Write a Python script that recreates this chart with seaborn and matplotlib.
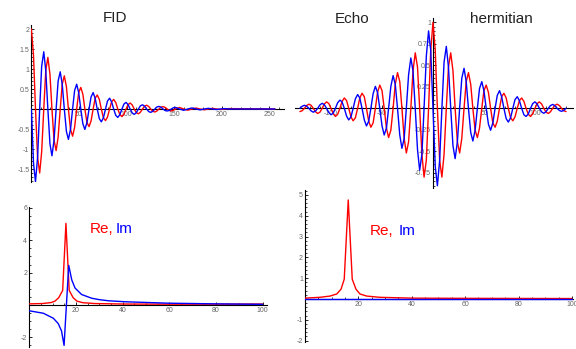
import matplotlib
matplotlib.use("Agg")
import matplotlib.pyplot as plt
import pandas as pd
import seaborn as sns

# ---------------- data ----------------
# FID: real (red) and imaginary (blue) parts, read every 1/8 period
fid_t = [0, 2.2, 4.3, 6.5, 8.7, 10.8, 13.0, 15.1, 17.3, 19.5, 21.6, 23.8, 26.0, 28.1,
         30.3, 32.4, 34.6, 36.8, 38.9, 41.1, 43.3, 45.4, 47.6, 49.7, 51.9, 54.1, 56.2,
         58.4, 60.6, 62.7, 64.9, 67.0, 69.2, 71.4, 73.5, 75.7, 77.9, 80.0, 82.2, 84.3,
         86.5, 88.7, 90.8, 93.0, 95.2, 97.3, 99.5, 101.6, 103.8, 106.0, 108.1, 110.3,
         112.5, 114.6, 116.8, 118.9, 121.1, 123.3, 125.4, 127.6, 129.8, 131.9, 134.1,
         136.2, 138.4, 140.6, 142.7, 144.9, 147.1, 149.2, 151.4,
         155.7, 160.0, 164.4, 168.7, 173.0, 177.3, 181.7, 186.0, 190.3, 194.6, 199.0,
         203.3, 207.6, 256]
fid_re = [2.0, 1.35, 0, -1.21, -1.6, -1.07, 0, 0.96, 1.29, 0.87, 0, -0.78, -1.04, -0.70,
          0, 0.62, 0.83, 0.56, 0, -0.51, -0.68, -0.46, 0, 0.41, 0.54, 0.37, 0, -0.34,
          -0.44, -0.30, 0, 0.27, 0.35, 0.24, 0, -0.22, -0.29, -0.20, 0, 0.18, 0.24, 0.16,
          0, -0.14, -0.19, -0.125, 0, 0.11, 0.15, 0.10, 0, -0.09, -0.12, -0.08, 0, 0.07,
          0.095, 0.064, 0, -0.057, -0.075, -0.05, 0, 0.044, 0.06, 0.039, 0, -0.035,
          -0.048, -0.033, 0,
          0.038, 0, -0.03, 0, 0.024, 0, -0.02, 0, 0.016, 0, -0.012, 0, 0.01, 0]
fid_im = [0, -1.35, -1.82, -1.21, 0, 1.07, 1.43, 0.96, 0, -0.87, -1.17, -0.78, 0, 0.70,
          0.93, 0.62, 0, -0.56, -0.76, -0.51, 0, 0.46, 0.62, 0.41, 0, -0.37, -0.51, -0.34,
          0, 0.30, 0.41, 0.27, 0, -0.24, -0.32, -0.22, 0, 0.20, 0.27, 0.18, 0, -0.16,
          -0.21, -0.14, 0, 0.125, 0.165, 0.11, 0, -0.10, -0.135, -0.09, 0, 0.08, 0.105,
          0.07, 0, -0.064, -0.085, -0.057, 0, 0.05, 0.065, 0.044, 0, -0.039, -0.05,
          -0.035, 0, 0.031, 0.04,
          0, -0.032, 0, 0.026, 0, -0.021, 0, 0.017, 0, -0.013, 0, 0.01, 0, 0]

# Echo (hermitian): real part even, imaginary part odd
echo_t_left = [-129.8, -127.6, -125.4, -123.3, -121.1, -118.9, -116.8, -114.6, -112.5,
               -110.3, -108.1, -106.0, -103.8, -101.6, -99.5, -97.3, -95.2, -93.0, -90.8,
               -88.7, -86.5, -84.3, -82.2, -80.0, -77.9, -75.7, -73.5, -71.4, -69.2, -67.0,
               -64.9, -62.7, -60.6, -58.4, -56.2, -54.1, -51.9, -49.7, -47.6, -45.4, -43.3,
               -41.1, -38.9, -36.8, -34.6, -32.4, -30.3, -28.1, -26.0, -23.8, -21.6, -19.5,
               -17.3, -15.1, -13.0, -10.8, -8.7, -6.5, -4.3, -2.2]
echo_t_right = [0, 2.2, 4.3, 6.5, 8.7, 10.8, 13.0, 15.1, 17.3, 19.5, 21.6, 23.8, 26.0, 28.1,
                30.3, 32.4, 34.6, 36.8, 38.9, 41.1, 43.3, 45.4, 47.6, 49.7, 51.9, 54.1, 56.2,
                58.4, 60.6, 62.7, 64.9, 67.0, 69.2, 71.4, 73.5, 75.7, 77.9, 80.0, 82.2, 84.3,
                86.5, 88.7, 90.8, 93.0, 95.2, 97.3, 99.5, 101.6, 103.8, 106.0, 108.1, 110.3,
                112.5, 114.6, 116.8, 118.9, 121.1, 123.3, 125.4, 127.6, 129.8]
echo_re_left = [-0.038, -0.028, 0, 0.032, 0.048, 0.035, 0, -0.04, -0.06, -0.045, 0, 0.05,
                0.075, 0.055, 0, -0.062, -0.095, -0.07, 0, 0.08, 0.12, 0.09, 0, -0.1, -0.145,
                -0.11, 0, 0.12, 0.175, 0.135, 0, -0.15, -0.22, -0.17, 0, 0.185, 0.27, 0.205,
                0, -0.23, -0.34, -0.255, 0, 0.28, 0.415, 0.31, 0, -0.35, -0.52, -0.39, 0,
                0.435, 0.645, 0.48, 0, -0.535, -0.8, -0.605, 0, 0.675]
echo_re_right = [1.0, 0.675, 0, -0.605, -0.8, -0.535, 0, 0.48, 0.645, 0.435, 0, -0.39, -0.52,
                 -0.35, 0, 0.31, 0.415, 0.28, 0, -0.255, -0.34, -0.23, 0, 0.205, 0.27, 0.185,
                 0, -0.17, -0.22, -0.15, 0, 0.135, 0.175, 0.12, 0, -0.11, -0.145, -0.1, 0,
                 0.09, 0.12, 0.08, 0, -0.07, -0.095, -0.062, 0, 0.055, 0.075, 0.05, 0, -0.045,
                 -0.06, -0.04, 0, 0.035, 0.048, 0.032, 0, -0.028, -0.038]
echo_im_left = [0, 0.024, 0.035, 0.025, 0, -0.03, -0.045, -0.032, 0, 0.04, 0.058, 0.042, 0,
                -0.05, -0.075, -0.055, 0, 0.065, 0.095, 0.075, 0, -0.09, -0.135, -0.1, 0, 0.11,
                0.16, 0.12, 0, -0.135, -0.205, -0.15, 0, 0.17, 0.255, 0.185, 0, -0.205, -0.31,
                -0.23, 0, 0.255, 0.38, 0.28, 0, -0.31, -0.465, -0.35, 0, 0.39, 0.585, 0.435, 0,
                -0.48, -0.72, -0.535, 0, 0.605, 0.9, 0.675]
echo_im_right = [0, -0.675, -0.9, -0.605, 0, 0.535, 0.72, 0.48, 0, -0.435, -0.585, -0.39, 0,
                 0.35, 0.465, 0.31, 0, -0.28, -0.38, -0.255, 0, 0.23, 0.31, 0.205, 0, -0.185,
                 -0.255, -0.17, 0, 0.15, 0.205, 0.135, 0, -0.12, -0.16, -0.11, 0, 0.1, 0.135,
                 0.09, 0, -0.075, -0.095, -0.065, 0, 0.055, 0.075, 0.05, 0, -0.042, -0.058,
                 -0.04, 0, 0.032, 0.045, 0.03, 0, -0.025, -0.035, -0.024, 0]

# Spectrum of the FID
spec1_re_x = [0, 5.6, 9.4, 11.0, 12.6, 14.3, 15.7, 17.1, 18.8, 20.4, 23.0, 28.0, 40.0, 60.0, 80.0, 100.0]
spec1_re_y = [0.07, 0.09, 0.15, 0.24, 0.45, 0.9, 5.05, 0.9, 0.45, 0.24, 0.14, 0.09, 0.06, 0.05, 0.05, 0.06]
spec1_im_x = [0, 6.0, 10.3, 12.4, 13.8, 14.9, 16.9, 18.2, 19.6, 22.4, 26.7, 30.0, 34.0, 41.0, 60.0, 80.0, 100.0]
spec1_im_y = [-0.36, -0.51, -0.82, -1.15, -1.6, -2.5, 2.45, 1.55, 1.05, 0.65, 0.42, 0.33, 0.26, 0.2, 0.11, 0.07, 0.04]

# Spectrum of the echo
spec2_re_x = [0, 5.6, 9.4, 11.9, 13.5, 14.7, 16.2, 17.7, 19.1, 20.6, 23.1, 28.0, 40.0, 60.0, 100.0]
spec2_re_y = [0.04, 0.08, 0.14, 0.24, 0.47, 0.95, 4.76, 0.95, 0.47, 0.24, 0.14, 0.08, 0.04, 0.03, 0.02]
spec2_im_x = [0, 20, 40, 60, 80, 100]
spec2_im_y = [0, 0, 0, 0, 0, 0]

RED = "#ff0000"
BLUE = "#0000ff"

sns.set_theme(style="white")
plt.rcParams["font.family"] = ["Liberation Sans", "DejaVu Sans"]

W, H = 576, 349
fig = plt.figure(figsize=(W / 100, H / 100), dpi=100)


def make_axes(px_left, px_right, px_top, px_bottom):
    return fig.add_axes([px_left / W, 1 - px_bottom / H,
                         (px_right - px_left) / W, (px_bottom - px_top) / H])


def style(ax, xlim, ylim, xmaj, xlab, xmin, ymaj, ylab, ymin):
    ax.set_xlim(*xlim)
    ax.set_ylim(*ylim)
    ax.patch.set_alpha(0)
    for s in ("top", "right"):
        ax.spines[s].set_visible(False)
    ax.spines["left"].set_position(("data", 0))
    ax.spines["bottom"].set_position(("data", 0))
    for s in ("left", "bottom"):
        ax.spines[s].set_linewidth(0.8)
        ax.spines[s].set_color("black")
        ax.spines[s].set_zorder(1)
    ax.set_xticks(xmaj, xlab)
    ax.set_xticks(xmin, minor=True)
    ax.set_yticks(ymaj, ylab)
    ax.set_yticks(ymin, minor=True)
    ax.tick_params(which="both", direction="in", color="black",
                   bottom=True, left=True)
    ax.tick_params(which="major", length=2.5, width=0.6, labelsize=5,
                   labelcolor="#666666", pad=1.5)
    ax.tick_params(which="minor", length=1.4, width=0.5)
    ax.set_xlabel("")
    ax.set_ylabel("")
    ax.grid(False)


def draw(ax, x, y, color):
    df = pd.DataFrame({"x": x, "y": y})
    sns.lineplot(data=df, x="x", y="y", ax=ax, color=color, linewidth=1.0,
                 estimator=None, sort=False, zorder=3)


def frange(a, b, step):
    out = []
    v = a
    while v <= b + 1e-9:
        out.append(round(v, 6))
        v += step
    return out


# ---- FID ----
ax1 = make_axes(31.4, 283.5, 25.0, 182.2)
draw(ax1, fid_t, fid_re, RED)
draw(ax1, fid_t, fid_im, BLUE)
style(ax1, (0, 265), (-1.83, 2.1),
      [50, 100, 150, 200, 250], ["50", "100", "150", "200", "250"], frange(0, 260, 10),
      [-1.5, -1, -0.5, 0.5, 1, 1.5, 2], ["-1.5", "-1", "-0.5", "0.5", "1", "1.5", "2"],
      frange(-1.8, 2.0, 0.1))

# ---- Echo ----
ax2 = make_axes(294.6, 572.7, 18.0, 188.3)
echo_t = echo_t_left + echo_t_right
draw(ax2, echo_t, echo_re_left + echo_re_right, RED)
draw(ax2, echo_t, echo_im_left + echo_im_right, BLUE)
style(ax2, (-135, 136.3), (-0.93, 1.05),
      [-100, -50, 50, 100], ["-100", "-50", "50", "100"], frange(-130, 130, 10),
      [-0.75, -0.5, -0.25, 0.25, 0.5, 0.75, 1],
      ["-0.75", "-0.5", "-0.25", "0.25", "0.5", "0.75", "1"], frange(-0.9, 1.0, 0.05))

# ---- Spectrum of FID ----
ax3 = make_axes(29.3, 266.6, 206.7, 346.7)
draw(ax3, spec1_re_x, spec1_re_y, RED)
draw(ax3, spec1_im_x, spec1_im_y, BLUE)
style(ax3, (0, 101.7), (-2.58, 6.08),
      [20, 40, 60, 80, 100], ["20", "40", "60", "80", "100"], frange(0, 100, 5),
      [-2, 2, 4, 6], ["-2", "2", "4", "6"], frange(-2.5, 6.0, 0.5))

# ---- Spectrum of Echo ----
ax4 = make_axes(305.0, 573.5, 190.0, 341.6)
draw(ax4, spec2_re_x, spec2_re_y, RED)
draw(ax4, spec2_im_x, spec2_im_y, BLUE)
style(ax4, (0, 100.6), (-2.05, 5.24),
      [20, 40, 60, 80, 100], ["20", "40", "60", "80", "100"], frange(0, 100, 5),
      [-2, -1, 1, 2, 3, 4, 5], ["-2", "-1", "1", "2", "3", "4", "5"],
      frange(-2.0, 5.2, 0.2))

# ---- texts ----
def ftext(px, py, s, color="#222222", size=11, ha="left"):
    fig.text(px / W, 1 - py / H, s, color=color, fontsize=size, ha=ha, va="baseline")

ftext(115, 21.7, "FID", ha="center")
ftext(335, 23.0, "Echo")
ftext(470, 23.0, "hermitian")
ftext(89.3, 232.7, "Re,", color=RED)
ftext(115.5, 232.7, "Im", color=BLUE)
ftext(370.0, 235.0, "Re,", color=RED)
ftext(398.3, 235.0, "Im", color=BLUE)

fig.savefig("out.png", dpi=100)
